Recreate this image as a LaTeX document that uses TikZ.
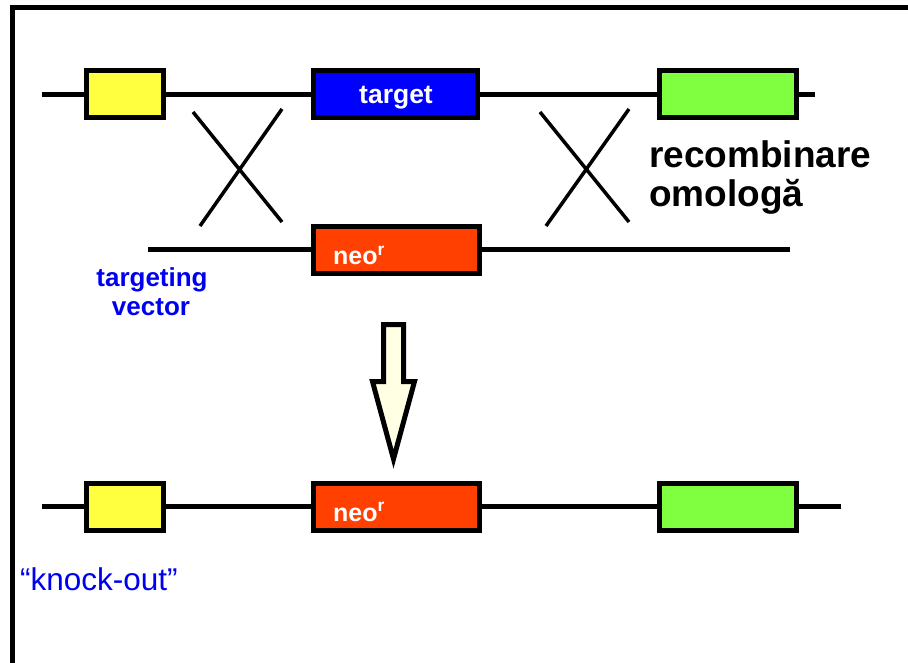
\documentclass[tikz,border=0pt]{standalone}
\usepackage{fontspec}
\setmainfont{Liberation Sans}
\definecolor{geneyellow}{HTML}{FFFF40}
\definecolor{genegreen}{HTML}{80FF40}
\definecolor{geneblue}{HTML}{0000FF}
\definecolor{neored}{HTML}{FF4000}
\definecolor{arrowfill}{HTML}{FFFFE4}
\definecolor{labelblue}{HTML}{0000F0}
\tikzset{
  dna/.style={line width=5pt},
  genebox/.style={draw=black, line width=5pt, minimum height=47pt, inner sep=0pt, outer sep=0pt},
  yellowgene/.style={genebox, fill=geneyellow, minimum width=77pt},
  greengene/.style={genebox, fill=genegreen, minimum width=137pt},
  targetgene/.style={genebox, fill=geneblue, minimum width=164pt},
  neogene/.style={genebox, fill=neored, minimum width=166pt},
  crossline/.style={line width=3.5pt},
  boxlabel/.style={text=white, font=\bfseries\fontsize{25}{30}\selectfont, inner sep=0pt, anchor=base west},
  vectorlabel/.style={text=labelblue, font=\bfseries\fontsize{26}{30}\selectfont, inner sep=0pt, anchor=base},
  reclabel/.style={font=\bfseries\fontsize{37}{40}\selectfont, inner sep=0pt, anchor=base west},
}
\begin{document}
\begin{tikzpicture}[x=1pt, y=-1pt]
\useasboundingbox (0,0) rectangle (908,663);
% frame
\draw[line width=4.5pt] (12.5,670) -- (12.5,7.5) -- (915,7.5);

% chromosomal locus
\coordinate (a0) at (42,94.5);
\coordinate (a1) at (815,94.5);
\node[yellowgene] (ya) at (125,94.5) {};
\node[targetgene] (ta) at (395,94.5) {};
\node[greengene] (ga) at (728,94.5) {};
\draw[dna] (a0) -- (ya.west) (ya.east) -- (ta.west) (ta.east) -- (ga.west) (ga.east) -- (a1);
\node[boxlabel, font=\bfseries\fontsize{26.5}{30}\selectfont] (tl) at (359,104) {target};

% targeting vector
\coordinate (b0) at (148,250);
\coordinate (b1) at (790,250);
\node[neogene] (nb) at (396,250) {};
\draw[dna] (b0) -- (nb.west) (nb.east) -- (b1);
\node[boxlabel] (nbl) at (333,265) {neo\textsuperscript{r}};
\node[vectorlabel] (tv1) at (152,287) {targeting};
\node[vectorlabel] (tv2) at (151,316) {vector};

% crossing-over marks
\coordinate (c1a) at (193,112); \coordinate (c1b) at (282,222);
\coordinate (c1c) at (282,109); \coordinate (c1d) at (200,226);
\coordinate (c2a) at (540,112); \coordinate (c2b) at (629,222);
\coordinate (c2c) at (629,109); \coordinate (c2d) at (546,226);
\draw[crossline] (c1a) -- (c1b) (c1c) -- (c1d) (c2a) -- (c2b) (c2c) -- (c2d);
\node[reclabel] (rec1) at (649,168) {recombinare};
\node[reclabel] (rec2) at (649,207) {omologă};

% result arrow
\draw[line width=5pt, fill=arrowfill, line join=miter, miter limit=20]
  (383.5,324.5) -- (403.5,324.5) -- (403.5,381.5) -- (414.5,381.5) -- (393.5,459)
  -- (372.5,381.5) -- (383.5,381.5) -- cycle;

% knock-out locus
\coordinate (k0) at (42,506.5);
\coordinate (k1) at (841,506.5);
\node[yellowgene] (yk) at (125,506.5) {};
\node[neogene] (nk) at (396,506.5) {};
\node[greengene] (gk) at (728,506.5) {};
\draw[dna] (k0) -- (yk.west) (yk.east) -- (nk.west) (nk.east) -- (gk.west) (gk.east) -- (k1);
\node[boxlabel] (nkl) at (333,521) {neo\textsuperscript{r}};
\node[text=labelblue, font=\fontsize{31.5}{36}\selectfont, inner sep=0pt, anchor=base west] (ko) at (20,590) {“knock-out”};
\end{tikzpicture}
\end{document}
